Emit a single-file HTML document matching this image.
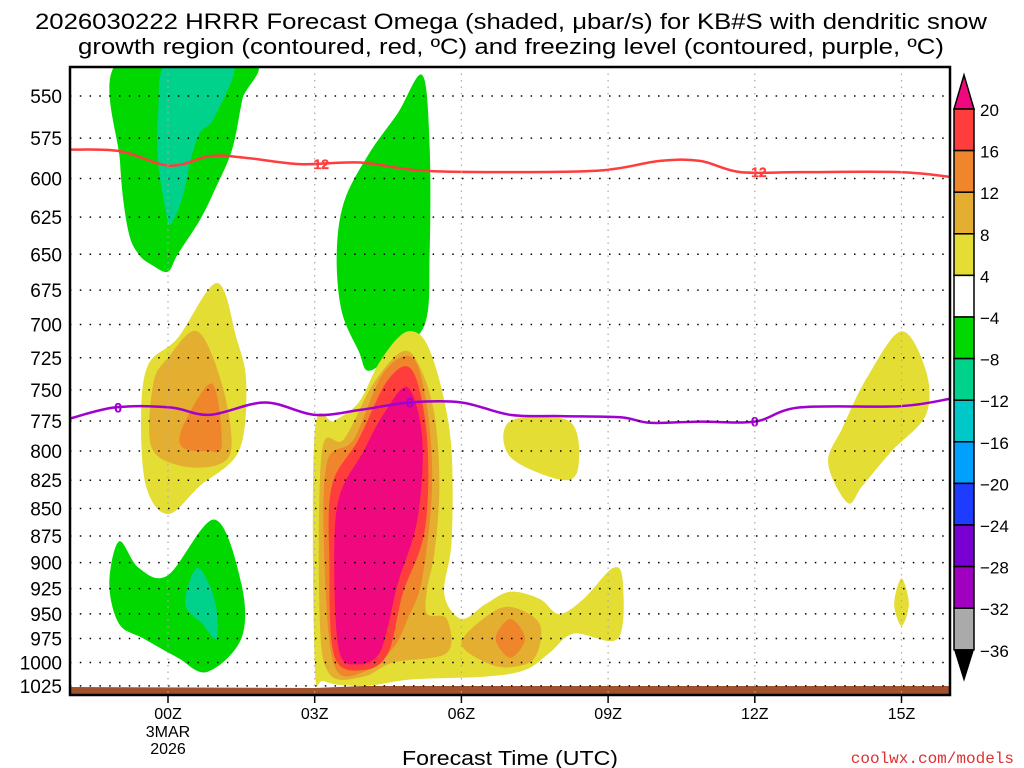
<!DOCTYPE html>
<html><head><meta charset="utf-8"><style>
body{margin:0;background:#fff;font-family:"Liberation Sans",sans-serif}
svg{display:block}
</style></head><body>
<svg id="chart" width="1024" height="768">
<text x="35" y="29" textLength="952" lengthAdjust="spacingAndGlyphs" font-size="22" fill="#000">2026030222 HRRR Forecast Omega (shaded, μbar/s) for KB#S with dendritic snow</text>
<text x="78" y="54" textLength="866" lengthAdjust="spacingAndGlyphs" font-size="22" fill="#000">growth region (contoured, red, ºC) and freezing level (contoured, purple, ºC)</text>
<g id="plot"></g>
<g id="axes"></g>
<g id="cbar"></g>
<text x="402" y="765" textLength="216" lengthAdjust="spacingAndGlyphs" font-size="20">Forecast Time (UTC)</text>
<text x="1014" y="763" text-anchor="end" font-size="16" fill="#e03030" font-family="Liberation Mono, monospace">coolwx.com/models</text>
</svg>
<script>
const NS="http://www.w3.org/2000/svg";
const pLabels=[550,575,600,625,650,675,700,725,750,775,800,825,850,875,900,925,950,975,1000,1025];
const hourTicks=[0,3,6,9,12,15];
const hourLabels=["00Z","03Z","06Z","09Z","12Z","15Z"];
const cbLevels=[20,16,12,8,4,-4,-8,-12,-16,-20,-24,-28,-32,-36];
const cbColors=["#ff3d3d","#f0862b","#e4ae30","#e4dd33","#ffffff","#00d800","#00d28c","#00c8c8","#00a0ff","#1e3cff","#7800d2","#a000c0","#aaaaaa"];
const yellowLevel="#e4dd33", ochre="#e4ae30", orange="#f0862b", red="#ff3d3d", magenta="#f0087f", green="#00d800", teal="#00d28c";
const greenUpperLeft=[[-1.0,530],[1.7,530],[1.52,552],[1.31,582],[0.96,607],[0.65,627],[0.2,650],[0,662],[-0.3,658],[-0.6,650],[-0.82,633],[-0.98,590]];
const tealUpperLeft=[[0,530],[1.33,530],[0.96,562],[0.65,572],[0.45,590],[0.3,612],[0.05,630],[-0.05,620],[-0.2,590],[-0.2,560]];
const greenMiddle=[[5.2,538],[5.35,580],[5.35,650],[5.25,700],[4.6,722],[4.1,735],[3.9,720],[3.55,690],[3.45,650],[3.6,615],[4.1,585],[4.7,560]];
const yellowLeft=[[1.0,670],[1.4,710],[1.6,745],[1.45,800],[0.65,830],[0,855],[-0.45,830],[-0.55,770],[-0.4,730],[0.2,710]];
const ochreLeft=[[-0.3,745],[0,725],[0.6,705],[1.1,745],[1.3,795],[1.0,812],[0.2,812],[-0.35,795]];
const orangeLeft=[[0.3,780],[0.9,745],[1.1,795],[0.8,800],[0.3,797]];
const greenLowerLeft=[[-1.0,880],[-0.6,905],[0,912],[0.95,860],[1.5,920],[1.5,975],[0.8,1010],[0.2,995],[-0.5,975],[-1.0,960],[-1.2,920]];
const tealLowerLeft=[[0.6,905],[0.95,935],[1.0,975],[0.7,960],[0.35,940]];
const yellowBig=[[3.0,785],[3.4,775],[3.9,760],[4.3,730],[4.7,710],[5.0,705],[5.3,715],[5.6,750],[5.8,800],[5.8,880],[5.65,930],[6.0,955],[6.5,940],[7.0,928],[7.6,935],[8.0,950],[8.5,935],[9.1,905],[9.3,918],[9.2,975],[8.3,970],[7.8,990],[7.3,1008],[6.5,1015],[5.0,1018],[4.0,1025],[3.2,1020],[3.0,1000]];
const ochreBig=[[3.15,800],[3.6,790],[4.2,745],[4.8,720],[5.15,732],[5.45,770],[5.55,830],[5.45,890],[5.3,925],[5.3,950],[5.7,955],[5.7,990],[4.6,1000],[4.0,1015],[3.3,1012],[3.1,950]];
const ochreRight=[[6.0,980],[6.5,953],[7.0,943],[7.6,960],[7.5,995],[7.0,1005],[6.5,1000]];
const orangeRight=[[6.7,975],[7.0,955],[7.3,975],[7.0,995]];
const orangeBig=[[3.25,810],[3.8,790],[4.4,737],[5.0,725],[5.3,765],[5.4,830],[5.2,915],[4.9,955],[4.6,985],[4.0,1010],[3.4,1003],[3.2,900]];
const redBig=[[3.35,830],[3.9,790],[4.5,742],[5.0,735],[5.3,790],[5.25,870],[4.8,930],[4.5,990],[4.0,1008],[3.4,993],[3.3,900]];
const magentaBig=[[3.5,840],[4.0,800],[4.4,770],[4.9,748],[5.2,790],[5.1,860],[4.7,920],[4.5,962],[4.3,992],[3.9,1002],[3.5,988],[3.4,900]];
const yellowSmall=[[7.0,775],[8.2,775],[8.4,810],[8.1,825],[7.0,805]];
const yellowRight=[[15.0,705],[15.5,735],[15.5,770],[14.8,800],[14.2,830],[13.9,845],[13.5,810],[13.8,780],[14.3,740]];
const yellowTiny=[[15.0,915],[15.15,940],[15.0,962],[14.85,940]];
const dgzHours=[-2,-0.98,0.04,0.86,1.57,2.7,3.93,5.15,6.79,8.83,10.06,10.88,11.7,12.92,14.97,16];
const dgzPres=[582,583,592,586,587,591,590,595,596,595,589,589,596,596,596,599];
const frzHours=[-2,-1.08,0.04,0.86,1.98,3.0,3.93,4.95,6.0,7.0,8.03,9.25,9.86,10.88,12.0,12.92,14.97,16];
const frzPres=[773,764,764,770,760,770,766,760,760,770,771,772,776.5,775.5,775.5,764,763,757];

const X0=168, PXH=48.9, Y0=96, KY=947.6;
const L=70,R=950,T=67,B=695;
function xs(h){return X0+PXH*h;}
function ys(p){return Y0+KY*Math.log(p/550);}
function el(tag,attrs,parent){const e=document.createElementNS(NS,tag);for(const k in attrs)e.setAttribute(k,attrs[k]);parent.appendChild(e);return e;}
function smooth(pts){
 const P=pts.map(d=>[xs(d[0]),ys(d[1])]);const n=P.length;let s="M"+P[0][0]+","+P[0][1];
 for(let i=0;i<n;i++){const p0=P[(i-1+n)%n],p1=P[i],p2=P[(i+1)%n],p3=P[(i+2)%n];
  s+=" C"+(p1[0]+(p2[0]-p0[0])/6)+","+(p1[1]+(p2[1]-p0[1])/6)+" "+(p2[0]-(p3[0]-p1[0])/6)+","+(p2[1]-(p3[1]-p1[1])/6)+" "+p2[0]+","+p2[1];}
 return s+"Z";}
function smoothOpen(P){let s="M"+P[0][0]+","+P[0][1];const n=P.length;
 for(let i=0;i<n-1;i++){const p0=P[Math.max(i-1,0)],p1=P[i],p2=P[i+1],p3=P[Math.min(i+2,n-1)];
  s+=" C"+(p1[0]+(p2[0]-p0[0])/6)+","+(p1[1]+(p2[1]-p0[1])/6)+" "+(p2[0]-(p3[0]-p1[0])/6)+","+(p2[1]-(p3[1]-p1[1])/6)+" "+p2[0]+","+p2[1];}
 return s;}
const svg=document.getElementById('chart');
const plot=document.getElementById('plot');
const defs=el('defs',{},svg);
const cp=el('clipPath',{id:'clip'},defs);el('rect',{x:L,y:T,width:R-L,height:B-T},cp);
const g=el('g',{'clip-path':'url(#clip)'},plot);
const shapes=[[greenUpperLeft,green,'omega-green-upper-left'],[tealUpperLeft,teal,'omega-teal-upper-left'],[greenMiddle,green,'omega-green-middle'],
[yellowLeft,yellowLevel,'omega-yellow-left'],[ochreLeft,ochre,'omega-ochre-left'],[orangeLeft,orange,'omega-orange-left'],
[greenLowerLeft,green,'omega-green-lower-left'],[tealLowerLeft,teal,'omega-teal-lower-left'],
[yellowBig,yellowLevel,'omega-yellow-main'],[ochreBig,ochre,'omega-ochre-main'],[ochreRight,ochre,'omega-ochre-right'],[orangeRight,orange,'omega-orange-right'],
[orangeBig,orange,'omega-orange-main'],[redBig,red,'omega-red-main'],[magentaBig,magenta,'omega-magenta-main'],
[yellowSmall,yellowLevel,'omega-yellow-small'],[yellowRight,yellowLevel,'omega-yellow-right'],[yellowTiny,yellowLevel,'omega-yellow-tiny']];
shapes.forEach(s=>{const e=el('path',{d:smooth(s[0]),fill:s[1]},g);
 
 });
pLabels.forEach(p=>{const e=el('line',{x1:L,x2:R,y1:ys(p),y2:ys(p),stroke:'#000','stroke-width':1.5,'stroke-dasharray':'1.5 8.3'},plot);
 
 });
hourTicks.forEach(h=>{const e=el('line',{x1:xs(h),x2:xs(h),y1:T,y2:B,stroke:'#aaa','stroke-width':1.2,'stroke-dasharray':'1.5 5'},plot);
 
 });
const gr=el('path',{d:`M${L},${687} L${xs(3)},${688} L${xs(4)},${686} L${R},${686} L${R},${695} L${L},${695}Z`,fill:'#a0522d'},g);


function line(hs,ps,color,name){const P=hs.map((h,i)=>[xs(h),ys(ps[i])]);
 const e=el('path',{d:smoothOpen(P),fill:'none',stroke:color,'stroke-width':2.5,'stroke-linejoin':'round'},g);
 
 }
line(dgzHours,dgzPres,'#ff3d3d','dgz-minus12-contour');
line(frzHours,frzPres,'#a000d0','freezing-level-contour');
function clabel(h,p,t,color,name){
 const e=el('text',{x:xs(h),y:ys(p)+5,'text-anchor':'middle','font-size':14,'font-weight':'bold',fill:color,stroke:color,'stroke-width':0.3},g);e.textContent=t;
 
 }
clabel(3.05,591,'−12','#ff3d3d','contour-label-minus12-a');
clabel(12.0,596,'−12','#ff3d3d','contour-label-minus12-b');
clabel(-1.02,764,'0','#a000d0','contour-label-0-a');
clabel(4.95,760,'0','#a000d0','contour-label-0-b');
clabel(12.0,775.5,'0','#a000d0','contour-label-0-c');
const ax=document.getElementById('axes');
el('rect',{x:L,y:T,width:R-L,height:B-T,fill:'none',stroke:'#000','stroke-width':2.5},ax);
pLabels.forEach(p=>{const t=el('text',{x:62,y:ys(p)+7,'text-anchor':'end','font-size':19},ax);t.textContent=p;
 
 });
hourTicks.forEach((h,i)=>{el('line',{x1:xs(h),x2:xs(h),y1:B,y2:B+8,stroke:'#000','stroke-width':1.5},ax);
 const t=el('text',{x:xs(h),y:719,'text-anchor':'middle','font-size':16},ax);t.textContent=hourLabels[i];
 
 });
[['3MAR',737],['2026',754]].forEach(a=>{const t=el('text',{x:xs(0),y:a[1],'text-anchor':'middle','font-size':16},ax);t.textContent=a[0];
 
 });
const cb=document.getElementById('cbar');
const cx=954,cw=20,ctop=109,step=41.6;
el('polygon',{points:`${cx},${ctop} ${cx+cw},${ctop} ${cx+cw/2},75`,fill:'#f0087f',stroke:'#000','stroke-width':1.5},cb);
cbColors.forEach((c,i)=>{const r=el('rect',{x:cx,y:ctop+i*step,width:cw,height:step,fill:c,stroke:'#000','stroke-width':1.5},cb);
 
 });
const cbot=ctop+cbColors.length*step;
el('polygon',{points:`${cx},${cbot} ${cx+cw},${cbot} ${cx+cw/2},${cbot+32}`,fill:'#000'},cb);
cbLevels.forEach((v,i)=>{const t=el('text',{x:980,y:ctop+i*step+7,'font-size':17},cb);t.textContent=(v<0?'−':'')+Math.abs(v);
 
 });
</script>
</body></html>
